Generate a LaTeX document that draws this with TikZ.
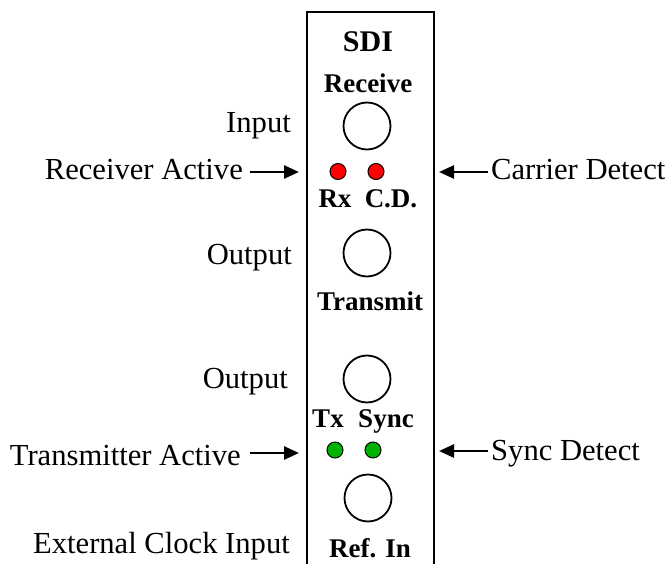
\documentclass[tikz,border=0pt]{standalone}
\usepackage{fontspec}
\setmainfont{Liberation Serif}
\usetikzlibrary{positioning,arrows.meta}
\tikzset{
  caption/.style ={ font=\fontsize{30.6}{34}\selectfont, inner sep=0pt },
  tag/.style     ={ font=\bfseries\fontsize{27}{30}\selectfont, inner sep=0pt, anchor=base },
  port/.style    ={ circle, draw=black, line width=1.8pt, minimum size=47pt, inner sep=0pt },
  led/.style     ={ circle, draw=black, line width=1pt, minimum size=16pt, inner sep=0pt },
  pointer/.style ={ -{Triangle[length=15pt,width=13pt]}, line width=2.6pt, draw=black },
  panel/.style   ={ draw=black, line width=1.6pt }
}
\begin{document}
\begin{tikzpicture}[x=1pt,y=-1pt]
        \useasboundingbox (0,0) rectangle (672,564);
        % front panel
        \draw[panel] (307,570) -- (307,12) -- (434,12) -- (434,570);
        \node[tag,font=\bfseries\fontsize{30}{33}\selectfont] (SDI) at (368,52) {SDI};
        \node[tag] (Recv) at (368,93) {Receive};
        \node[port] (PIn) at (367,126) {};
        \node[led,fill=red] (LRx) at (338,171.5) {};
        \node[led,fill=red] (LCD) at (376,171.5) {};
        \node[tag] (Rx) at (335,208) {Rx};
        \node[tag] (CD) at (391,208) {C.D.};
        \node[port] (POut) at (367,253) {};
        \node[tag] (Xmit) at (370,310) {Transmit};
        \node[port] (PTx) at (367,379) {};
        \node[tag] (Tx) at (328,427) {Tx};
        \node[tag] (Sync) at (386,427) {Sync};
        \node[led,fill=green!70!black] (LTx) at (335,450) {};
        \node[led,fill=green!70!black] (LSync) at (373,450) {};
        \node[port] (PRef) at (368,498) {};
        \node[tag] (Ref) at (370,557) {Ref. In};
        % left side
        \node[caption,anchor=base east] (In) at (291,133) {Input};
        \node[caption,anchor=base east] (RxA) at (243,180) {Receiver Active};
        \node[caption,anchor=base east] (Out) at (292,264) {Output};
        \node[caption,anchor=base east] (Out2) at (288,388) {Output};
        \node[caption,anchor=base east] (TxA) at (241,465) {Transmitter Active};
        \node[caption,anchor=base east] (Ext) at (290,553) {External Clock Input};
        % right side
        \node[caption,anchor=base west] (CDA) at (491,180) {Carrier Detect};
        \node[caption,anchor=base west] (SyncA) at (491,460) {Sync Detect};
        \coordinate (RxTip) at (299,172);
        \coordinate (TxTip) at (299,453);
        \coordinate (CDTip) at (439,172);
        \coordinate (SyncTip) at (439,451);
        \draw[pointer,shorten <=7pt] (RxA.east |- RxTip) -- (RxTip);
        \draw[pointer,shorten <=9pt] (TxA.east |- TxTip) -- (TxTip);
        \draw[pointer,shorten <=3pt] (CDA.west |- CDTip) -- (CDTip);
        \draw[pointer,shorten <=3pt] (SyncA.west |- SyncTip) -- (SyncTip);
      \end{tikzpicture}
\end{document}
